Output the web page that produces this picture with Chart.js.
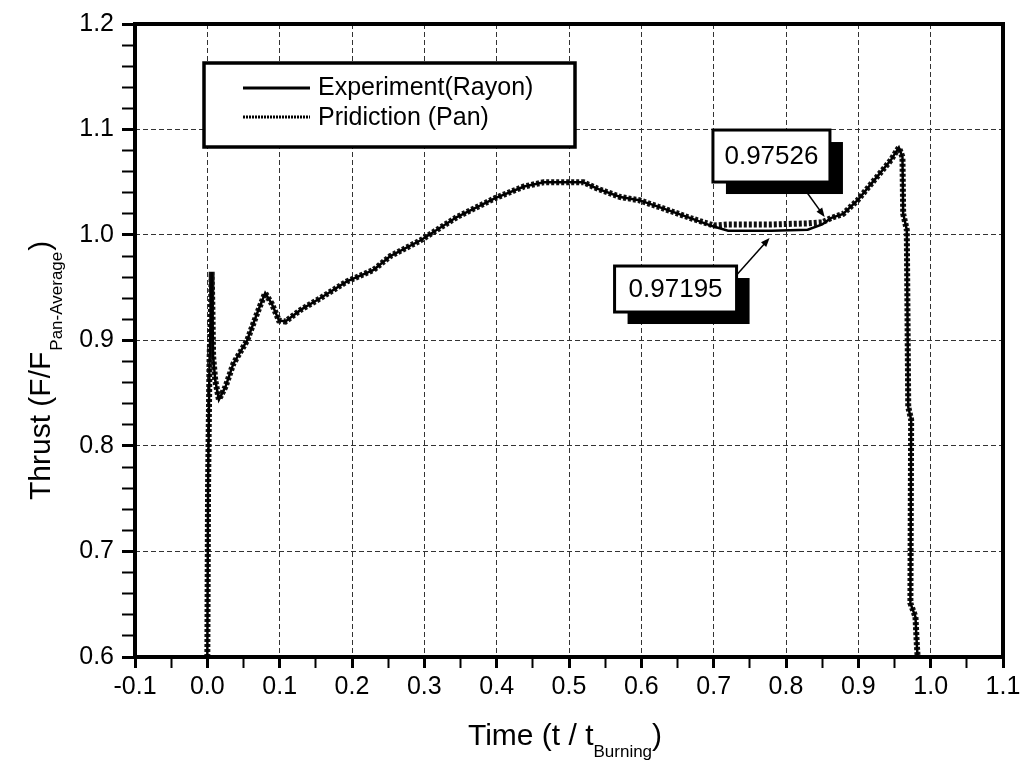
<!DOCTYPE html>
<html>
<head>
<meta charset="utf-8">
<title>Thrust vs Time</title>
<script src="https://cdn.jsdelivr.net/npm/chart.js@4.4.1/dist/chart.umd.min.js"></script>
<style>
  html, body { margin: 0; padding: 0; background: #ffffff; }
  #wrap { width: 1033px; height: 763px; position: relative; }
</style>
</head>
<body>
<div id="wrap"><canvas id="thrustChart"></canvas></div>
<script>
/* ---------- data ---------- */
var TIME = [0.000, 0.001, 0.003, 0.005, 0.006, 0.007, 0.008, 0.011, 0.016, 0.025,
            0.036, 0.055, 0.069, 0.080, 0.089, 0.099, 0.108, 0.129, 0.156, 0.193,
            0.230, 0.253, 0.295, 0.345, 0.398, 0.438, 0.465, 0.520, 0.539, 0.571,
            0.597, 0.631, 0.668, 0.700, 0.720, 0.780, 0.830, 0.850, 0.862, 0.879,
            0.899, 0.922, 0.945, 0.956, 0.961, 0.962, 0.967, 0.969, 0.973, 0.972,
            0.979, 0.981, 0.982];
var EXPERIMENT = [0.600, 0.760, 0.880, 0.930, 0.965, 0.930, 0.885, 0.862, 0.844, 0.856,
                  0.878, 0.900, 0.926, 0.945, 0.935, 0.919, 0.918, 0.929, 0.940, 0.956,
                  0.967, 0.980, 0.995, 1.017, 1.035, 1.046, 1.050, 1.050, 1.044, 1.036,
                  1.033, 1.025, 1.016, 1.008, 1.004, 1.004, 1.005, 1.010, 1.016, 1.020,
                  1.033, 1.052, 1.071, 1.083, 1.074, 1.020, 1.005, 0.837, 0.825, 0.651,
                  0.638, 0.610, 0.600];
var PREDICTION = [0.600, 0.760, 0.880, 0.930, 0.965, 0.930, 0.885, 0.862, 0.844, 0.856,
                  0.878, 0.900, 0.926, 0.945, 0.935, 0.919, 0.918, 0.929, 0.940, 0.956,
                  0.967, 0.980, 0.995, 1.017, 1.035, 1.046, 1.050, 1.050, 1.044, 1.036,
                  1.033, 1.025, 1.016, 1.009, 1.010, 1.010, 1.011, 1.012, 1.016, 1.020,
                  1.033, 1.052, 1.071, 1.083, 1.074, 1.020, 1.005, 0.837, 0.825, 0.651,
                  0.638, 0.610, 0.600];
var SERIES_NAMES = ["Experiment(Rayon)", "Pridiction (Pan)"];
var CALLOUT_TEXT = ["0.97526", "0.97195"];
var X_MIN = -0.1, X_MAX = 1.1, X_STEP = 0.05;
var Y_MIN = 0.6, Y_MAX = 1.2, Y_STEP = 0.02;

var FONT = '"Liberation Sans", Arial, sans-serif';

function toPoints(xs, ys) {
  var pts = [];
  for (var i = 0; i < xs.length; i++) pts.push({ x: xs[i], y: ys[i] });
  return pts;
}

function isMajor(v, step10) {
  return Math.abs(Math.round(v * 100) % step10) < 0.5;
}

/* ---------- frame, legend, axis titles, callouts ---------- */
var decorPlugin = {
  id: "decor",
  beforeDraw: function (chart) {
    var ctx = chart.ctx;
    ctx.save();
    ctx.fillStyle = "#ffffff";
    ctx.fillRect(0, 0, chart.width, chart.height);
    ctx.restore();
  },
  afterDraw: function (chart) {
    var ctx = chart.ctx;
    var a = chart.chartArea;
    var xs = chart.scales.x, ys = chart.scales.y;

    /* frame */
    ctx.save();
    ctx.strokeStyle = "#000";
    ctx.lineWidth = 4;
    ctx.strokeRect(a.left, a.top, a.right - a.left, a.bottom - a.top);

    /* legend box */
    var lx = a.left + 69, ly = a.top + 39;
    ctx.fillStyle = "#fff";
    ctx.fillRect(lx, ly, 371, 84);
    ctx.lineWidth = 3.5;
    ctx.strokeRect(lx, ly, 371, 84);
    ctx.beginPath();
    ctx.lineWidth = 3;
    ctx.moveTo(lx + 39, ly + 25);
    ctx.lineTo(lx + 106, ly + 25);
    ctx.stroke();
    ctx.beginPath();
    ctx.lineWidth = 3;
    ctx.setLineDash([2, 1]);
    ctx.moveTo(lx + 39, ly + 54);
    ctx.lineTo(lx + 106, ly + 54);
    ctx.stroke();
    ctx.setLineDash([]);
    ctx.fillStyle = "#000";
    ctx.font = "25px " + FONT;
    ctx.textBaseline = "middle";
    ctx.textAlign = "left";
    ctx.fillText(SERIES_NAMES[0], lx + 114, ly + 25);
    ctx.fillText(SERIES_NAMES[1], lx + 114, ly + 55);

    /* callouts */
    var callouts = [
      { text: CALLOUT_TEXT[0], bx: 0.699, by: 1.0995, w: 117, h: 52,
        tail: [0.8285, 1.0408], tip: [0.8534, 1.0171] },
      { text: CALLOUT_TEXT[1], bx: 0.563, by: 0.9706, w: 122, h: 46,
        tail: [0.7317, 0.9621], tip: [0.7773, 0.9972] }
    ];
    callouts.forEach(function (c) {
      var px = xs.getPixelForValue(c.bx), py = ys.getPixelForValue(c.by);
      ctx.fillStyle = "#000";
      ctx.fillRect(px + 13, py + 12, c.w, c.h);
      ctx.fillStyle = "#fff";
      ctx.fillRect(px, py, c.w, c.h);
      ctx.lineWidth = 3;
      ctx.strokeStyle = "#000";
      ctx.strokeRect(px, py, c.w, c.h);
      ctx.fillStyle = "#000";
      ctx.font = "26px " + FONT;
      ctx.textAlign = "center";
      ctx.textBaseline = "middle";
      ctx.fillText(c.text, px + c.w / 2, py + c.h / 2 + 1);

      var x0 = xs.getPixelForValue(c.tail[0]), y0 = ys.getPixelForValue(c.tail[1]);
      var x1 = xs.getPixelForValue(c.tip[0]), y1 = ys.getPixelForValue(c.tip[1]);
      var ang = Math.atan2(y1 - y0, x1 - x0);
      ctx.beginPath();
      ctx.lineWidth = 1.5;
      ctx.moveTo(x0, y0);
      ctx.lineTo(x1 - 6 * Math.cos(ang), y1 - 6 * Math.sin(ang));
      ctx.stroke();
      ctx.beginPath();
      ctx.moveTo(x1, y1);
      ctx.lineTo(x1 - 9 * Math.cos(ang) + 3.5 * Math.sin(ang), y1 - 9 * Math.sin(ang) - 3.5 * Math.cos(ang));
      ctx.lineTo(x1 - 9 * Math.cos(ang) - 3.5 * Math.sin(ang), y1 - 9 * Math.sin(ang) + 3.5 * Math.cos(ang));
      ctx.closePath();
      ctx.fill();
    });

    /* x axis title: Time (t / t_Burning) */
    ctx.fillStyle = "#000";
    ctx.textAlign = "left";
    ctx.textBaseline = "alphabetic";
    var mainX = "Time (t / t", subX = "Burning";
    ctx.font = "30px " + FONT;
    var w1 = ctx.measureText(mainX).width;
    var w3 = ctx.measureText(")").width;
    ctx.font = "17px " + FONT;
    var w2 = ctx.measureText(subX).width;
    var sx = (a.left + a.right) / 2 - (w1 + w2 + w3) / 2 - 4;
    ctx.font = "30px " + FONT;
    ctx.fillText(mainX, sx, 745);
    ctx.font = "17px " + FONT;
    ctx.fillText(subX, sx + w1, 757);
    ctx.font = "30px " + FONT;
    ctx.fillText(")", sx + w1 + w2, 745);

    /* y axis title: Thrust (F/F_Pan-Average) */
    ctx.save();
    ctx.translate(50, 500);
    ctx.rotate(-Math.PI / 2);
    var mainY = "Thrust (F/F", subY = "Pan-Average";
    ctx.font = "30px " + FONT;
    var v1 = ctx.measureText(mainY).width;
    ctx.fillText(mainY, 0, 0);
    ctx.font = "17px " + FONT;
    var v2 = ctx.measureText(subY).width;
    ctx.fillText(subY, v1 + 1, 12);
    ctx.font = "30px " + FONT;
    ctx.fillText(")", v1 + v2 + 2, 0);
    ctx.restore();

    ctx.restore();
  }
};

/* ---------- chart ---------- */
function initChart() {
  var ctx = document.getElementById("thrustChart").getContext("2d");

  new Chart(ctx, {
    type: "line",
    data: {
      datasets: [
        {
          label: SERIES_NAMES[0],
          data: toPoints(TIME, EXPERIMENT),
          borderColor: "#000000",
          borderWidth: 2.5,
          pointRadius: 0,
          tension: 0,
          order: 0
        },
        {
          label: SERIES_NAMES[1],
          data: toPoints(TIME, PREDICTION),
          borderColor: "#111111",
          borderWidth: 6,
          borderDash: [3, 2],
          pointRadius: 0,
          tension: 0,
          order: 1
        }
      ]
    },
    options: {
      responsive: true,
      maintainAspectRatio: false,
      animation: false,
      layout: { padding: { top: 24, right: 30, left: 0, bottom: 0 } },
      scales: {
        x: {
          type: "linear",
          min: X_MIN,
          max: X_MAX,
          afterFit: function (s) { s.height = 106; },
          ticks: {
            stepSize: X_STEP,
            autoSkip: false,
            maxRotation: 0,
            padding: 4,
            color: "#000",
            font: { size: 25, family: FONT },
            callback: function (v) {
              return isMajor(v, 10) ? v.toFixed(1) : "";
            }
          },
          grid: {
            color: function (c) {
              return c.tick && isMajor(c.tick.value, 10) ? "#333333" : "rgba(0,0,0,0)";
            },
            lineWidth: 1,
            tickColor: "#000",
            tickWidth: function (c) {
              return c.tick && isMajor(c.tick.value, 10) ? 3 : 2;
            },
            tickLength: 11,
            tickBorderDash: []
          },
          border: { display: false, dash: [5, 3] }
        },
        y: {
          type: "linear",
          min: Y_MIN,
          max: Y_MAX,
          afterFit: function (s) { s.width = 135; },
          ticks: {
            stepSize: Y_STEP,
            autoSkip: false,
            padding: 8,
            color: "#000",
            font: { size: 25, family: FONT },
            callback: function (v) {
              return isMajor(v, 10) ? v.toFixed(1) : "";
            }
          },
          grid: {
            color: function (c) {
              return c.tick && isMajor(c.tick.value, 10) ? "#333333" : "rgba(0,0,0,0)";
            },
            lineWidth: 1,
            tickColor: "#000",
            tickWidth: function (c) {
              return c.tick && isMajor(c.tick.value, 10) ? 3 : 2;
            },
            tickLength: 13,
            tickBorderDash: []
          },
          border: { display: false, dash: [5, 3] }
        }
      },
      plugins: {
        legend: { display: false },
        tooltip: { enabled: false },
        title: { display: false }
      }
    },
    plugins: [decorPlugin]
  });
}

if (document.readyState === "loading") {
  document.addEventListener("DOMContentLoaded", initChart);
} else {
  initChart();
}
</script>
</body>
</html>
